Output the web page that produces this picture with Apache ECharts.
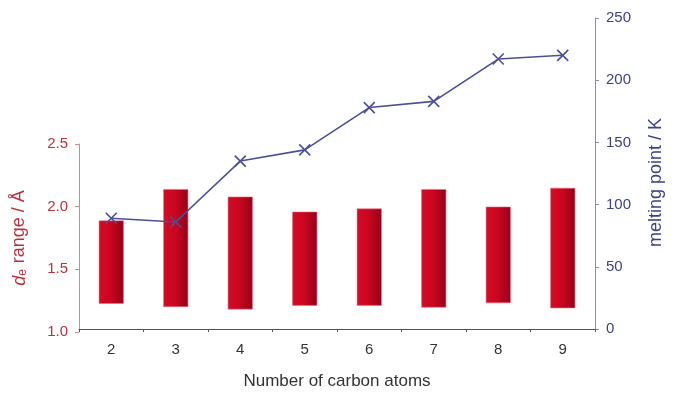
<!DOCTYPE html>
<html>
<head>
<meta charset="utf-8">
<script src="https://cdn.jsdelivr.net/npm/echarts@6/dist/echarts.min.js"></script>
<style>
html,body{margin:0;padding:0;background:#fff;}
#chart{width:673px;height:395px;}
</style>
</head>
<body>
<div id="chart"></div>
<script>
const categories = ['2','3','4','5','6','7','8','9'];
const deRangeLow  = [1.225, 1.20, 1.18, 1.21, 1.21, 1.195, 1.23, 1.19];
const deRangeHigh = [1.89, 2.14, 2.08, 1.96, 1.985, 2.14, 2.00, 2.15];
const meltingPoint = [89, 86, 135, 144, 178, 183, 217, 220];
const leftTicks = {min: 1.0, max: 2.5, interval: 0.5};
const rightTicks = {min: 0, max: 250, interval: 50};

const rangeSpan = deRangeHigh.map((h, i) => +(h - deRangeLow[i]).toFixed(3));

const font = '"Liberation Sans", Arial, sans-serif';
const redText = '#b8323f';
const blueText = '#3e4286';

const chart = echarts.init(document.getElementById('chart'), null, {renderer: 'canvas'});
chart.setOption({
  animation: false,
  backgroundColor: '#fff',
  grid: [
    {left: 79, right: 78, top: 144, bottom: 63},
    {left: 79, right: 78, top: 18, bottom: 63}
  ],
  xAxis: [
    {type: 'category', gridIndex: 0, data: categories, show: false},
    {
      type: 'category', gridIndex: 1, data: categories,
      name: 'Number of carbon atoms', nameLocation: 'middle', nameGap: 44,
      nameTextStyle: {fontFamily: font, fontSize: 17, color: '#333'},
      axisLine: {lineStyle: {color: '#555', width: 1}},
      axisTick: {show: true, length: 3, lineStyle: {color: '#555'}},
      axisLabel: {fontFamily: font, fontSize: 15, color: '#333', margin: 13}
    }
  ],
  yAxis: [
    {
      type: 'value', gridIndex: 0, position: 'left',
      min: leftTicks.min, max: leftTicks.max, interval: leftTicks.interval,
      name: '{i|d}{s|e}{n| range / Å}', nameLocation: 'middle', nameGap: 50,
      nameTextStyle: {
        fontFamily: font, fontSize: 18, color: redText,
        rich: {
          i: {fontFamily: font, fontSize: 18, fontStyle: 'italic', color: redText},
          s: {fontFamily: font, fontSize: 12, color: redText, verticalAlign: 'bottom', padding: [7, 1, 0, 0]},
          n: {fontFamily: font, fontSize: 18, color: redText}
        }
      },
      splitLine: {show: false},
      axisLine: {show: true, lineStyle: {color: '#c98c92', width: 1}},
      axisTick: {show: true, length: 4, lineStyle: {color: '#c98c92'}},
      axisLabel: {fontFamily: font, fontSize: 15, color: redText, margin: 11,
        formatter: v => v.toFixed(1)}
    },
    {
      type: 'value', gridIndex: 1, position: 'right',
      min: rightTicks.min, max: rightTicks.max, interval: rightTicks.interval,
      name: 'melting point / K', nameLocation: 'middle', nameGap: 52,
      nameTextStyle: {fontFamily: font, fontSize: 18, color: blueText, padding: [0, 18, 0, 0]},
      splitLine: {show: false},
      axisLine: {show: true, lineStyle: {color: '#8a8cae', width: 1}},
      axisTick: {show: true, length: 4, lineStyle: {color: '#8a8cae'}},
      axisLabel: {fontFamily: font, fontSize: 15, color: blueText, margin: 11}
    }
  ],
  series: [
    {
      type: 'bar', xAxisIndex: 0, yAxisIndex: 0, stack: 'de',
      data: deRangeLow, barWidth: 25,
      itemStyle: {color: 'rgba(0,0,0,0)'}, silent: true
    },
    {
      type: 'bar', xAxisIndex: 0, yAxisIndex: 0, stack: 'de',
      data: rangeSpan, barWidth: 25,
      itemStyle: {
        color: new echarts.graphic.LinearGradient(0, 0, 1, 0, [
          {offset: 0, color: '#d80a26'},
          {offset: 0.5, color: '#c7061f'},
          {offset: 1, color: '#940019'}
        ]),
        borderColor: '#e5707e', borderWidth: 0.6
      }
    },
    {
      type: 'line', xAxisIndex: 1, yAxisIndex: 1, z: 10,
      data: meltingPoint,
      lineStyle: {color: '#4b5094', width: 1.6},
      symbol: 'path://M0,0L10,10M10,0L0,10',
      symbolSize: 11,
      itemStyle: {color: 'rgba(0,0,0,0)', borderColor: '#4b5094', borderWidth: 1.6}
    }
  ]
});
</script>
</body>
</html>
